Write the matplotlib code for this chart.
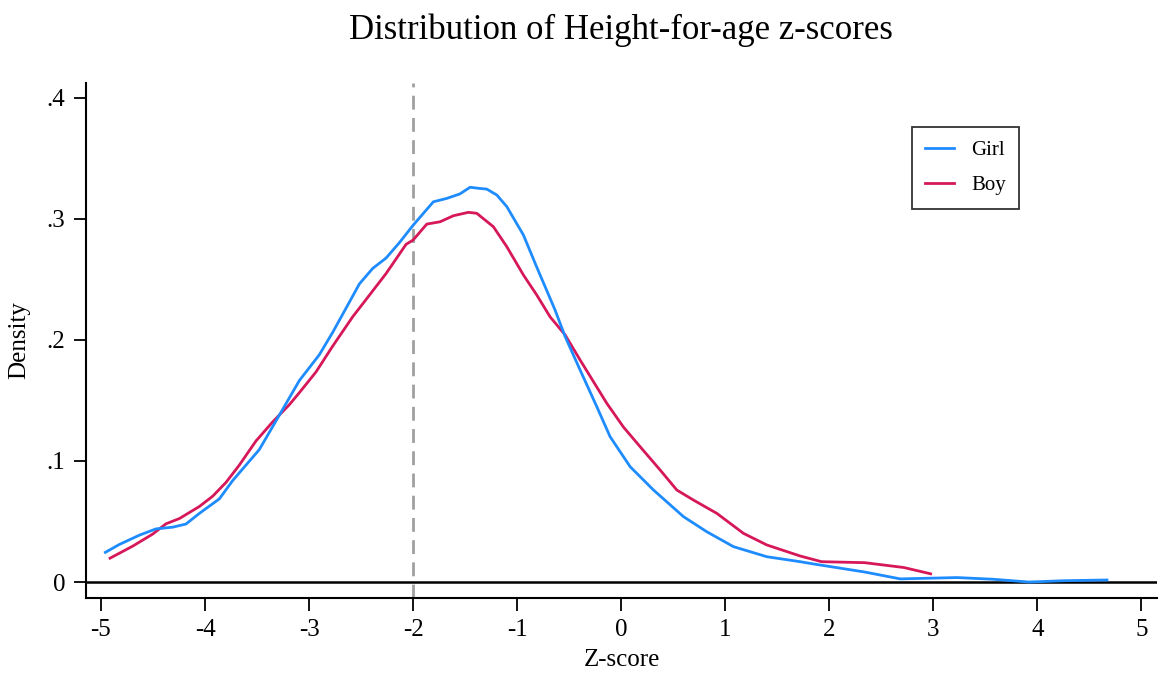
import matplotlib
matplotlib.use("Agg")
import matplotlib.pyplot as plt

plt.rcParams['font.family'] = ['Liberation Serif', 'DejaVu Serif']

## kernel density curves
girl_x = [-4.958, -4.824, -4.631, -4.471, -4.311, -4.183, -4.054, -3.862, -3.734, -3.478,
          -3.285, -3.093, -2.901, -2.772, -2.644, -2.516, -2.388, -2.26, -2.131, -2.0,
          -1.805, -1.676, -1.55, -1.452, -1.356, -1.292, -1.195, -1.099, -0.939, -0.811,
          -0.635, -0.538, -0.394, -0.234, -0.106, 0.087, 0.311, 0.599, 0.824, 1.08,
          1.401, 1.721, 1.859, 2.34, 2.683, 3.23, 3.576, 3.92, 4.26, 4.67]
girl_y = [0.0245, 0.031, 0.0387, 0.0439, 0.0453, 0.0479, 0.0567, 0.0687, 0.0838, 0.1094,
          0.1379, 0.1664, 0.1877, 0.2063, 0.2262, 0.2462, 0.259, 0.2675, 0.2803, 0.2946,
          0.314, 0.3168, 0.3205, 0.326, 0.325, 0.3245, 0.3196, 0.310, 0.2865, 0.260,
          0.2246, 0.2026, 0.175, 0.1448, 0.12, 0.0952, 0.076, 0.054, 0.0415, 0.0292,
          0.0209, 0.0168, 0.0148, 0.0083, 0.0026, 0.0037, 0.0023, 0.0, 0.0011, 0.0017]

boy_x = [-4.913, -4.696, -4.503, -4.375, -4.247, -4.054, -3.926, -3.798, -3.67, -3.51,
         -3.35, -3.19, -3.093, -2.933, -2.772, -2.58, -2.452, -2.26, -2.067, -2.0,
         -1.868, -1.74, -1.612, -1.468, -1.388, -1.228, -1.099, -0.939, -0.811, -0.683,
         -0.538, -0.394, -0.138, 0.022, 0.183, 0.375, 0.535, 0.695, 0.92, 1.176,
         1.401, 1.721, 1.927, 2.34, 2.717, 2.975]
boy_y = [0.0197, 0.0296, 0.0396, 0.0481, 0.0524, 0.0624, 0.0709, 0.0823, 0.0966, 0.1165,
         0.1322, 0.1464, 0.1564, 0.1735, 0.1949, 0.2191, 0.2333, 0.2547, 0.2789, 0.2824,
         0.2956, 0.2975, 0.3025, 0.3053, 0.3045, 0.2934, 0.2769, 0.2535, 0.237, 0.219,
         0.204, 0.1833, 0.1476, 0.128, 0.1117, 0.0925, 0.076, 0.0677, 0.0567, 0.0402,
         0.0306, 0.0215, 0.0168, 0.016, 0.012, 0.0068]

x_ticks = [-5, -4, -3, -2, -1, 0, 1, 2, 3, 4, 5]
y_ticks = [0, 0.1, 0.2, 0.3, 0.4]
y_tick_labels = ['0', '.1', '.2', '.3', '.4']
cutoff = -2

fig = plt.figure(figsize=(11.59, 6.73), dpi=100)
ax = fig.add_axes([0.0742, 0.1114, 0.924, 0.766])

ax.axvline(cutoff, color='#a0a0a0', lw=2, ls=(0, (5, 3)), zorder=1)
ax.axhline(0, color='black', lw=1.8, zorder=1)
ax.plot(girl_x, girl_y, color='#1e8cff', lw=2, label='Girl', zorder=3)
ax.plot(boy_x, boy_y, color='#d6175a', lw=2, label='Boy', zorder=2)

ax.set_xlim(-5.144, 5.15)
ax.set_ylim(-0.0132, 0.4125)
ax.set_xticks(x_ticks)
ax.set_xticklabels([str(v) for v in x_ticks])
ax.set_yticks(y_ticks)
ax.set_yticklabels(y_tick_labels)

for s in ['top', 'right']:
    ax.spines[s].set_visible(False)
for s in ['left', 'bottom']:
    ax.spines[s].set_linewidth(1.5)
ax.tick_params(length=9, width=1.3, labelsize=18, pad=6)

ax.set_xlabel('Z-score', fontsize=18, labelpad=6)
ax.set_ylabel('Density', fontsize=18, labelpad=12)
# title is centred over the plot region, not the figure
fig.text(0.536, 0.955, 'Distribution of Height-for-age z-scores', fontsize=25,
         ha='center', va='center')

leg = ax.legend(loc='upper left', bbox_to_anchor=(0.771, 0.913), fontsize=15,
                frameon=True, fancybox=False, edgecolor='black', handlelength=1.4,
                handletextpad=0.8, borderpad=0.65, labelspacing=0.72,
                borderaxespad=0)
leg.get_frame().set_linewidth(1.3)

fig.savefig('out.png', dpi=100)
